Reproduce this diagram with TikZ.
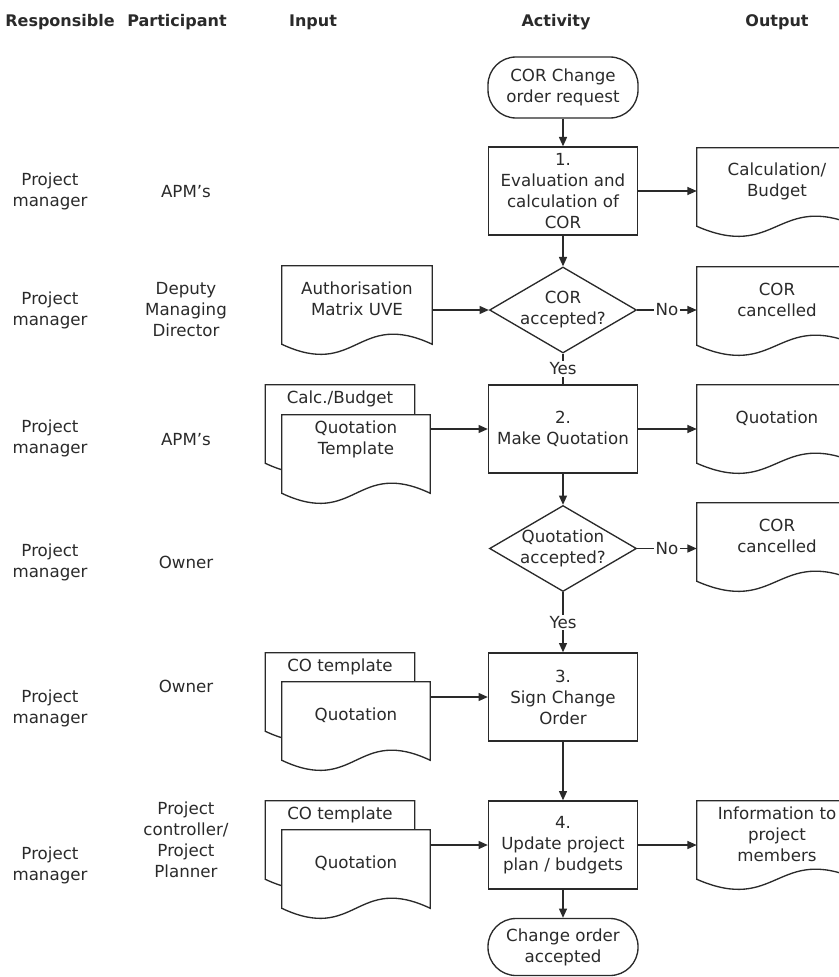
\documentclass[tikz,border=0pt]{standalone}
\usepackage{fontspec}
\setmainfont{DejaVu Sans}
\usetikzlibrary{shapes.geometric,arrows.meta,calc}
\pgfdeclarelayer{backdocs}
\pgfdeclarelayer{frontdocs}
\pgfsetlayers{backdocs,frontdocs,main}
\definecolor{ink}{HTML}{2A2A2A}

\tikzset{
  every node/.style={font=\fontsize{12.5pt}{15.75pt}\selectfont, text=ink, align=center},
  inkline/.style={draw=ink, line width=1pt},
  arr/.style={inkline, -{Triangle[length=7pt,width=6pt]}},
  header/.style={font=\fontsize{12pt}{15.75pt}\selectfont\bfseries},
  taskbox/.style={inkline, rectangle, minimum width=111.75pt, minimum height=66pt, inner sep=1pt},
  terminal/.style={inkline, rectangle, rounded corners=21pt, minimum width=112.5pt, minimum height=45.75pt, inner sep=1pt},
  decision/.style={inkline, diamond, aspect=1.7, inner sep=-4pt, minimum width=110.25pt, minimum height=64.5pt},
  docnode/.style={rectangle, minimum width=#1, minimum height=49.5pt, inner sep=0pt},
  docnode/.default=112.5pt,
  lbl/.style={fill=white, inner sep=1pt},
}

% document symbol: flat top, wavy bottom edge below the text area
\newcommand\docoutline[1]{%
  \path[inkline, fill=white] (#1.north west) -- (#1.north east) -- ($(#1.south east)+(0,12)$)
    .. controls ($(#1.south)+(0,-23)$) and ($(#1.south)+(0,47)$) .. ($(#1.south west)+(0,12)$) -- cycle;}

\begin{document}
\begin{tikzpicture}[x=0.75pt, y=-0.75pt]
\useasboundingbox (0,0) rectangle (838,977);

% column headers
\node[header] (hResp) at (60,22) {Responsible};
\node[header] (hPart) at (177,22) {Participant};
\node[header] (hIn)   at (313,22) {Input};
\node[header] (hAct)  at (556,22) {Activity};
\node[header] (hOut)  at (777,22) {Output};

% responsible / participant
\node (r1) at (50,191) {Project\\manager};
\node (p1) at (186,192) {APM’s};
\node (r2) at (50,310) {Project\\manager};
\node (p2) at (186,310) {Deputy\\Managing\\Director};
\node (r3) at (50,438) {Project\\manager};
\node (p3) at (186,440) {APM’s};
\node (r4) at (50,562) {Project\\manager};
\node (p4) at (186,562) {Owner};
\node (r5) at (50,708) {Project\\manager};
\node (p5) at (186,686) {Owner};
\node (r6) at (50,865) {Project\\manager};
\node (p6) at (186,840) {Project\\controller/\\Project\\Planner};

% activity chain
\node[terminal] (start) at (563,87.5) {COR Change\\order request};
\node[taskbox] (t1) at (563,191) {1.\\Evaluation and\\calculation of\\COR};
\node[decision] (d1) at (563,310) {COR\\accepted?};
\node[taskbox] (t2) at (563,429) {2.\\Make Quotation};
\node[decision] (d2) at (563,548.5) {Quotation\\accepted?};
\node[taskbox] (t3) at (563,697) {3.\\Sign Change\\Order};
\node[taskbox] (t4) at (563,845) {4.\\Update project\\plan / budgets};
\node[terminal, minimum height=42.75pt] (stop) at (563,947) {Change order\\accepted};

% outputs
\node[docnode=120pt] (o1) at (777,181) {Calculation/\\Budget};
\node[docnode=120pt] (o2) at (777,300) {COR\\cancelled};
\node[docnode=120pt] (o3) at (777,418) {Quotation};
\node[docnode=120pt] (o4) at (777,536) {COR\\cancelled};
\node[docnode=120pt] (o5) at (777,834) {Information to\\project\\members};

% inputs
\node[docnode] (auth) at (357,299) {Authorisation\\Matrix UVE};
\node[docnode=111.75pt] (back3) at (340,418) {\raisebox{10.7pt}[0pt][0pt]{Calc./Budget}};
\node[docnode=111pt] (front3) at (356,448) {Quotation\\Template\\\mbox{}};
\node[docnode=111.75pt] (back5) at (340,686) {\raisebox{10.7pt}[0pt][0pt]{CO template}};
\node[docnode=111pt] (front5) at (356,715) {Quotation};
\node[docnode=111.75pt] (back6) at (340,834) {\raisebox{10.7pt}[0pt][0pt]{CO template}};
\node[docnode=111pt] (front6) at (356,863) {Quotation};

\begin{pgfonlayer}{backdocs}
  \docoutline{back3}
  \docoutline{back5}
  \docoutline{back6}
\end{pgfonlayer}
\begin{pgfonlayer}{frontdocs}
  \docoutline{front3}
  \docoutline{front5}
  \docoutline{front6}
  \docoutline{auth}
  \docoutline{o1}
  \docoutline{o2}
  \docoutline{o3}
  \docoutline{o4}
  \docoutline{o5}
\end{pgfonlayer}

% flow
\draw[arr] (start) -- (t1);
\draw[arr] (t1) -- (d1);
\draw[inkline] (d1) -- node[lbl] (y1) {Yes} (t2);
\draw[arr] (t2) -- (d2);
\draw[arr] (d2) -- node[lbl] (y2) {Yes} (t3);
\draw[arr] (t3) -- (t4);
\draw[arr] (t4) -- (stop);

% outputs and inputs
\draw[arr] (t1.east) -- (t1.east -| o1.west);
\draw[arr] (auth.east |- d1.west) -- (d1.west);
\draw[arr] (d1.east) -- node[lbl] (n1) {No} (d1.east -| o2.west);
\draw[arr] (t2.east) -- (t2.east -| o3.west);
\draw[arr] (front3.east |- t2.west) -- (t2.west);
\draw[arr] (d2.east) -- node[lbl] (n2) {No} (d2.east -| o4.west);
\draw[arr] (front5.east |- t3.west) -- (t3.west);
\draw[arr] (front6.east |- t4.west) -- (t4.west);
\draw[arr] (t4.east) -- (t4.east -| o5.west);
\end{tikzpicture}
\end{document}
